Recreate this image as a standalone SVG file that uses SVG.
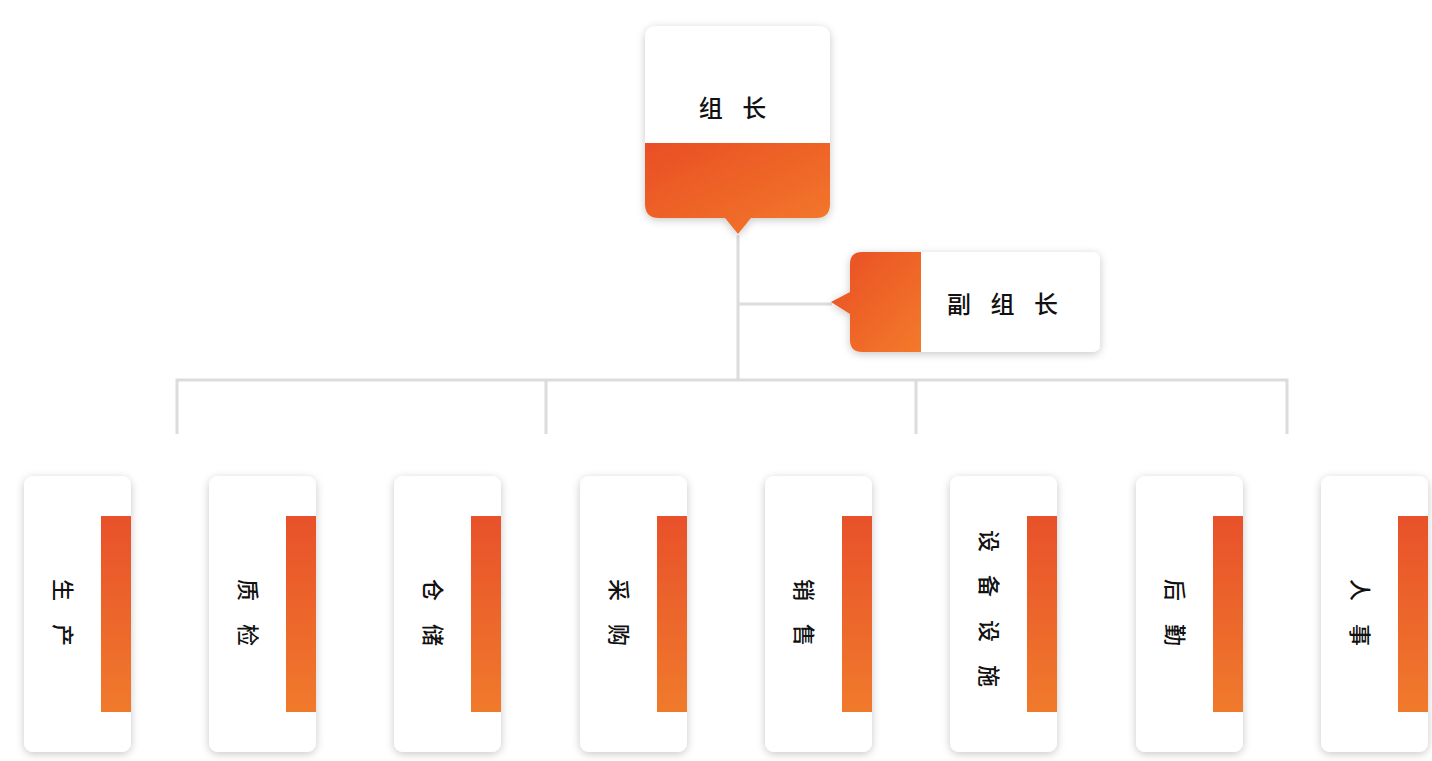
<svg xmlns="http://www.w3.org/2000/svg" width="1432" height="761" viewBox="0 0 1432 761">
<defs>
<linearGradient id="og" x1="0" y1="0" x2="1" y2="1">
<stop offset="0" stop-color="#e94e26"/>
<stop offset="1" stop-color="#f37a2a"/>
</linearGradient>
<linearGradient id="ogv" x1="0" y1="0" x2="0" y2="1">
<stop offset="0" stop-color="#e8512a"/>
<stop offset="1" stop-color="#f07a2c"/>
</linearGradient>
<filter id="sh" x="-30%" y="-30%" width="160%" height="160%">
<feDropShadow dx="0" dy="2" stdDeviation="4" flood-color="#000" flood-opacity="0.22"/>
</filter>
</defs>
<style>
.card{fill:#fff;filter:url(#sh)}
.lbl{font-family:"Noto Sans CJK SC","Noto Sans CJK JP",sans-serif;font-size:24px;font-weight:500;fill:#111;text-anchor:middle;dominant-baseline:central;letter-spacing:7px}
.vl{font-family:"Noto Sans CJK SC","Noto Sans CJK JP",sans-serif;font-size:22px;font-weight:500;fill:#111;text-anchor:middle;dominant-baseline:central;letter-spacing:9px}
.ln{stroke:#dcdcdc;stroke-width:3;fill:none}
</style>
<rect width="1432" height="761" fill="#fff"/>
<g id="connectors">
<path class="ln" d="M738 235V380M738 304H832M177 434V380H1287V434M546 380V434M916 380V434"/>
</g>
<g id="n-leader">
<g filter="url(#sh)">
<path d="M657 26H818Q830 26 830 38V143H645V38Q645 26 657 26Z" fill="#fff"/>
<path d="M645 143H830V204Q830 218 816 218H751L738 234L725 218H659Q645 218 645 204Z" fill="url(#og)"/>
</g>
<text class="lbl" x="736" y="106">组 长</text>
</g>
<g id="n-deputy">
<g filter="url(#sh)">
<path d="M921 252H1092Q1100 252 1100 260V344Q1100 352 1092 352H921Z" fill="#fff"/>
<path d="M921 252V352H862Q850 352 850 340V314L831 302L850 292V264Q850 252 862 252Z" fill="url(#og)"/>
</g>
<text class="lbl" x="1006" y="302">副 组 长</text>
</g>
<g id="n1"><rect class="card" x="24" y="476" width="107" height="276" rx="9"/><rect x="101" y="516" width="30" height="196" fill="url(#ogv)"/><text class="vl" transform="translate(65 617) rotate(90)">生 产</text></g>
<g id="n2"><rect class="card" x="209" y="476" width="107" height="276" rx="9"/><rect x="286" y="516" width="30" height="196" fill="url(#ogv)"/><text class="vl" transform="translate(250 617) rotate(90)">质 检</text></g>
<g id="n3"><rect class="card" x="394" y="476" width="107" height="276" rx="9"/><rect x="471" y="516" width="30" height="196" fill="url(#ogv)"/><text class="vl" transform="translate(435 617) rotate(90)">仓 储</text></g>
<g id="n4"><rect class="card" x="580" y="476" width="107" height="276" rx="9"/><rect x="657" y="516" width="30" height="196" fill="url(#ogv)"/><text class="vl" transform="translate(621 617) rotate(90)">采 购</text></g>
<g id="n5"><rect class="card" x="765" y="476" width="107" height="276" rx="9"/><rect x="842" y="516" width="30" height="196" fill="url(#ogv)"/><text class="vl" transform="translate(806 617) rotate(90)">销 售</text></g>
<g id="n6"><rect class="card" x="950" y="476" width="107" height="276" rx="9"/><rect x="1027" y="516" width="30" height="196" fill="url(#ogv)"/><text class="vl" transform="translate(991 613) rotate(90)">设 备 设 施</text></g>
<g id="n7"><rect class="card" x="1136" y="476" width="107" height="276" rx="9"/><rect x="1213" y="516" width="30" height="196" fill="url(#ogv)"/><text class="vl" transform="translate(1177 617) rotate(90)">后 勤</text></g>
<g id="n8"><rect class="card" x="1321" y="476" width="107" height="276" rx="9"/><rect x="1398" y="516" width="30" height="196" fill="url(#ogv)"/><text class="vl" transform="translate(1362 617) rotate(90)">人 事</text></g>
</svg>
